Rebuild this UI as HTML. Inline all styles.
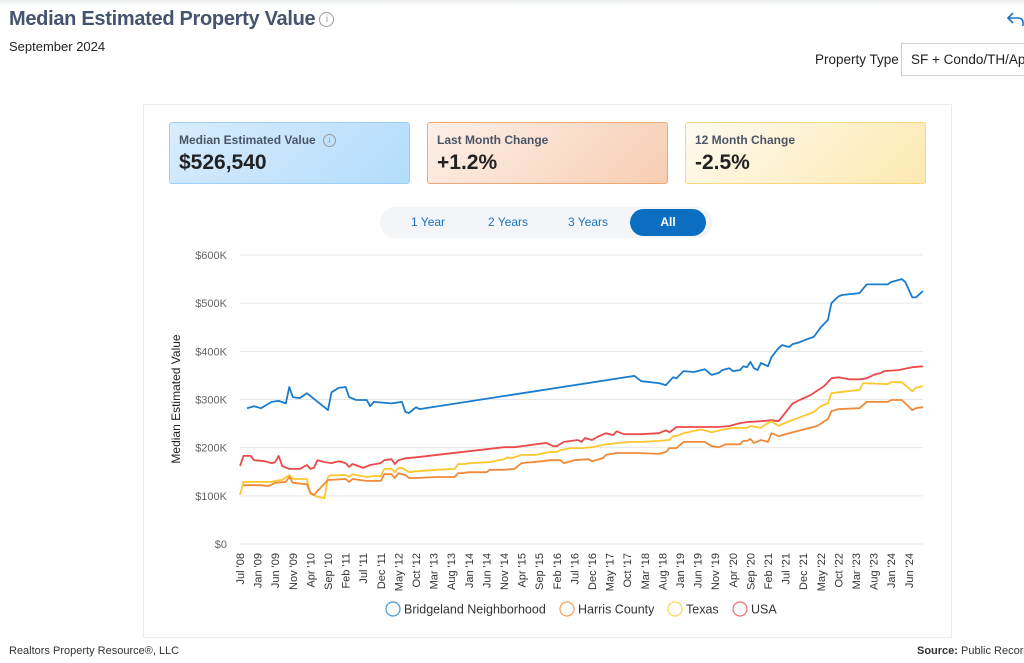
<!DOCTYPE html>
<html><head><meta charset="utf-8">
<style>
body{margin:0;width:1024px;height:663px;background:#fff;font-family:"Liberation Sans",sans-serif;overflow:hidden;position:relative}
.topshade{position:absolute;left:0;top:0;width:1024px;height:6px;background:linear-gradient(#eceef1,#fff)}
h1{position:absolute;left:9px;top:8px;margin:0;font-size:20px;font-weight:bold;color:#44546f;letter-spacing:-0.3px}
.info{display:inline-block;width:13px;height:13px;border:1px solid #999;border-radius:50%;font-size:10px;line-height:13px;text-align:center;color:#999;font-weight:normal;vertical-align:3px;margin-left:4px}
.sub{position:absolute;left:9px;top:39px;font-size:13px;color:#222}
.ptl{position:absolute;left:815px;top:52px;font-size:13.5px;color:#222}
.sel{position:absolute;left:901px;top:43px;width:140px;height:33px;border:1px solid #ccc;box-sizing:border-box;font-size:13.5px;padding:8px 9px;color:#222;white-space:nowrap}
.panel{position:absolute;left:143px;top:104px;width:809px;height:534px;border:1px solid #e8ebef;box-sizing:border-box}
.card{position:absolute;top:122px;width:241px;height:62px;border-radius:3px;box-sizing:border-box;padding:10px 9px}
.card .t{font-size:12px;font-weight:bold;color:#4a5568}
.card .v{font-size:21px;font-weight:bold;color:#222;margin-top:4px}
.pill{position:absolute;left:380px;top:207px;width:332px;height:31px;background:#f3f5f8;border-radius:16px}
.pb{position:absolute;top:215px;font-size:12px;color:#1a73c6}
.all{position:absolute;left:630px;top:209px;width:76px;height:27px;border-radius:14px;background:#0b6ec0;color:#fff;font-size:12px;font-weight:bold;text-align:center;line-height:27px}
.foot{position:absolute;top:645px;font-size:11px;color:#333;white-space:nowrap}
</style></head><body>
<div class="topshade"></div>
<h1>Median Estimated Property Value<span class="info">i</span></h1>
<div class="sub">September 2024</div>
<svg style="position:absolute;left:1005px;top:10px" width="20" height="18"><path d="M8 3 L3 8 L8 13 M3 8 H13 Q18 8 18 13 V16" fill="none" stroke="#1a73c6" stroke-width="1.6"/></svg>
<div class="ptl">Property Type</div>
<div class="sel">SF + Condo/TH/Apt</div>
<div class="panel"></div>
<div class="card" style="left:169px;background:linear-gradient(135deg,#d8ecfd,#b3dcfb);border:1px solid #9fd0f7"><div class="t">Median Estimated Value <span class="info" style="width:11px;height:11px;line-height:11px;font-size:8px;vertical-align:1px">i</span></div><div class="v">$526,540</div></div>
<div class="card" style="left:427px;background:linear-gradient(135deg,#fdf0e8,#f7cdb3);border:1px solid #f0a877"><div class="t">Last Month Change</div><div class="v">+1.2%</div></div>
<div class="card" style="left:685px;background:linear-gradient(135deg,#fffaf0,#fde9b0);border:1px solid #f9d77a"><div class="t">12 Month Change</div><div class="v">-2.5%</div></div>
<div class="pill"></div>
<div class="pb" style="left:411px">1 Year</div>
<div class="pb" style="left:488px">2 Years</div>
<div class="pb" style="left:568px">3 Years</div>
<div class="all">All</div>
<svg id="chart" style="position:absolute;left:0;top:0" width="1024" height="663"></svg>
<div class="foot" style="left:9px">Realtors Property Resource®, LLC</div>
<div class="foot" style="left:917px"><b>Source:</b> Public Records</div>
<script>
const tickLabels=["Jul '08","Jan '09","Jun '09","Nov '09","Apr '10","Sep '10","Feb '11","Jul '11","Dec '11","May '12","Oct '12","Mar '13","Aug '13","Jan '14","Jun '14","Nov '14","Apr '15","Sep '15","Feb '16","Jul '16","Dec '16","May '17","Oct '17","Mar '18","Aug '18","Jan '19","Jun '19","Nov '19","Apr '20","Sep '20","Feb '21","Jul '21","Dec '21","May '22","Oct '22","Mar '23","Aug '23","Jan '24","Jun '24"];
const yTicks=[0,100,200,300,400,500,600];
// months since Jul 2008, values in $K
const bridgeMonths=[2,4,6,9,11,13,14,15,17,19,25,26,28,30,31,33,36,37,38,43,46,47,48,50,51,112,114,119,121,123,124,126,129,132,134,136,137,139,140,142,143,144,145,146,147,148,150,151,153,154,156,157,159,161,163,165,167,168,170,171,176,178,184,185,188,189,191,192,194];
const bridgeValues=[282,286,282,295,297,292,326,305,303,313,278,315,324,326,305,299,299,286,295,292,295,274,272,284,280,349,338,334,330,346,344,359,357,363,351,355,361,365,359,361,369,367,378,365,361,376,369,388,407,413,409,415,419,425,430,450,465,500,514,517,521,539,539,544,550,544,512,512,525];
const harrisMonths=[1,6,8,10,13,14,15,19,20,21,25,26,30,31,32,36,40,41,43,44,45,47,48,50,56,61,62,63,65,70,71,75,78,80,86,88,91,92,95,99,100,103,104,107,113,119,121,122,124,126,132,134,136,138,142,143,144,145,146,148,150,151,153,157,164,166,167,168,170,176,178,184,185,188,191,192,194];
const harrisValues=[122,122,120,127,129,139,127,124,106,102,133,133,135,129,135,131,131,145,145,137,147,143,137,137,139,139,147,147,149,149,154,154,156,168,172,174,174,168,174,176,172,178,185,189,189,187,191,199,199,212,212,203,201,207,207,214,214,218,210,216,212,230,224,232,245,255,259,276,280,282,295,295,299,299,278,282,284];
const texasMonths=[0,1,6,9,10,12,14,15,19,20,21,22,24,25,26,30,31,32,36,38,40,41,43,44,45,46,48,50,56,61,62,64,65,71,75,76,77,80,84,88,90,91,94,97,100,104,108,111,114,119,122,123,124,126,131,134,137,140,143,144,145,148,149,151,153,154,159,163,165,167,168,170,176,177,184,185,188,191,192,194];
const texasValues=[102,129,129,129,131,133,143,135,135,104,102,98,95,139,143,143,139,145,139,141,141,156,156,149,158,158,149,151,154,156,166,166,168,170,176,180,178,185,185,191,191,195,199,199,201,207,210,212,212,214,216,224,224,230,238,232,237,241,241,241,245,241,247,255,245,249,263,274,286,292,313,315,320,334,332,336,336,317,324,328];
const usaMonths=[0,1,3,4,7,9,10,11,12,14,17,19,20,21,22,24,26,28,30,31,32,35,37,40,41,43,44,45,47,50,75,78,87,89,90,92,96,97,98,100,102,104,106,107,109,114,119,121,122,124,127,131,136,139,142,144,148,151,153,157,159,162,166,168,170,173,176,178,180,182,183,187,191,194];
const usaValues=[162,183,183,174,172,168,170,183,162,156,156,164,156,158,174,170,168,172,168,160,166,158,164,168,174,176,166,174,178,180,201,201,210,203,203,212,216,212,220,216,224,230,226,234,228,228,230,236,232,243,243,243,243,245,251,253,255,257,255,292,299,309,328,344,346,342,342,344,351,355,359,361,367,369];
const seriesNames=["Bridgeland Neighborhood","Harris County","Texas","USA"];
const seriesColors=["#1a7ccc","#f08a3a","#fdc72e","#ec4a4a"];

const svg=document.getElementById('chart');const NS='http://www.w3.org/2000/svg';
const X0=240,X1=922.9,MMAX=194,Y0=544,Y1=255,VMAX=600;
const xs=m=>X0+(X1-X0)*m/MMAX;
const ys=v=>Y0-(Y0-Y1)*v/VMAX;
function mk(t,a){const e=document.createElementNS(NS,t);for(const k in a)e.setAttribute(k,a[k]);svg.appendChild(e);return e;}
yTicks.forEach(v=>{
  const g=mk('line',{x1:X0,x2:X1,y1:ys(v),y2:ys(v),stroke:'#e6e6e6','stroke-width':1});
  
  
  const t=mk('text',{x:227,y:ys(v)+4,'text-anchor':'end','font-size':11,fill:'#666','font-family':'Liberation Sans, sans-serif'});
  t.textContent=v===0?'$0':'$'+v+'K';
  
  
});
tickLabels.forEach((lab,i)=>{
  const x=xs(i*5)+4;
  const t=mk('text',{x:x,y:553,'text-anchor':'end','font-size':11,fill:'#333','font-family':'Liberation Sans, sans-serif',transform:'rotate(-90 '+x+' 553)'});
  t.textContent=lab;
  
  
});
const yt=mk('text',{x:180,y:399,'text-anchor':'middle','font-size':12,fill:'#222','font-family':'Liberation Sans, sans-serif',transform:'rotate(-90 180 399)'});
yt.textContent='Median Estimated Value';


const allM=[bridgeMonths,harrisMonths,texasMonths,usaMonths],allV=[bridgeValues,harrisValues,texasValues,usaValues];
[3,2,1,0].forEach(s=>{
  const d=allM[s].map((m,i)=>(i?'L':'M')+xs(m).toFixed(1)+' '+ys(allV[s][i]).toFixed(1)).join(' ');
  const p=mk('path',{d:d,fill:'none',stroke:seriesColors[s],'stroke-width':1.8,'stroke-linejoin':'round'});
  
  
});
const legX=[386,560,668,733];
seriesNames.forEach((n,i)=>{
  const c=mk('circle',{cx:legX[i]+7,cy:609,r:7,fill:'none',stroke:seriesColors[i],'stroke-width':1.2,opacity:0.8});
  
  
  const t=mk('text',{x:legX[i]+18,y:613.5,'font-size':12.5,fill:'#333','font-family':'Liberation Sans, sans-serif'});
  t.textContent=n;
  
  
});
</script>
</body></html>
